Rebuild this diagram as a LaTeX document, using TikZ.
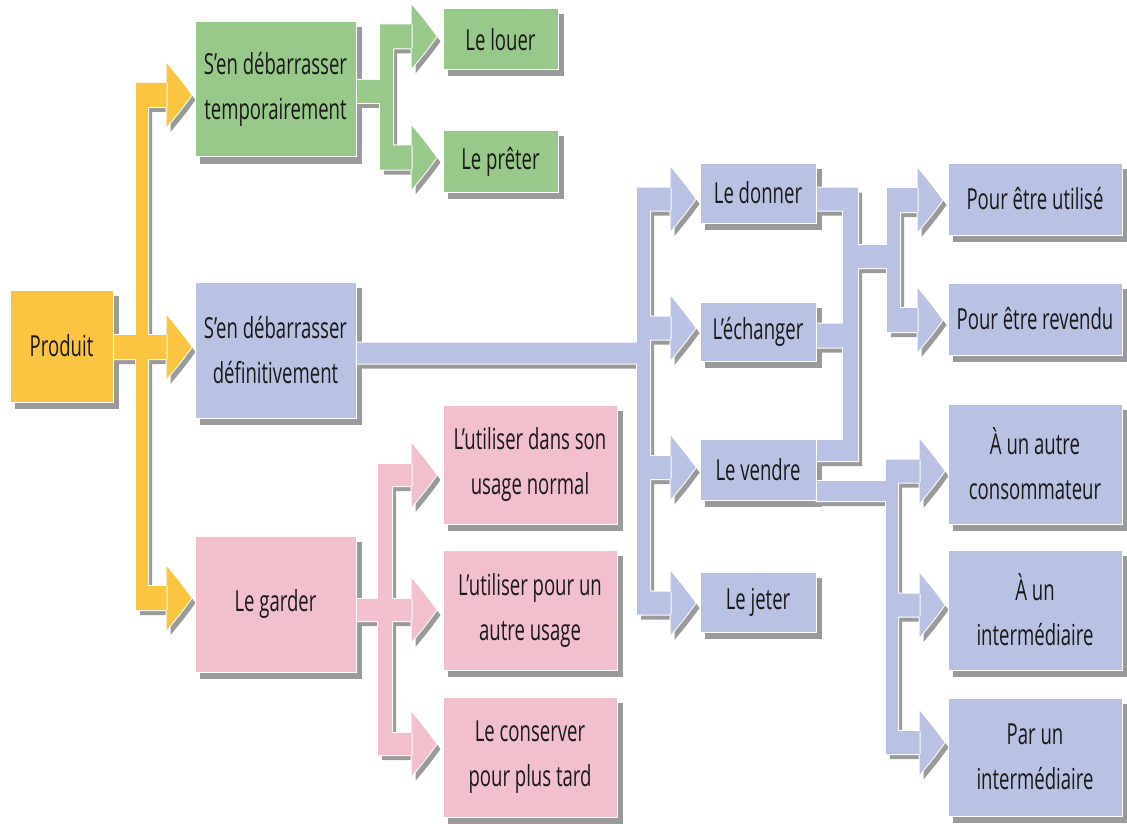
\documentclass[tikz,border=0pt]{standalone}
\usepackage{fontspec}
\setmainfont{Open Sans}[FakeStretch=0.64]
\usetikzlibrary{calc}

\definecolor{yellowc}{HTML}{FBC542}
\definecolor{greenc}{HTML}{98C98A}
\definecolor{bluec}{HTML}{B9C2E3}
\definecolor{pinkc}{HTML}{F2C0CD}
\definecolor{shadegray}{HTML}{9A9A9A}

\pgfdeclarelayer{canvasbg}
\pgfdeclarelayer{boxshadow}
\pgfdeclarelayer{connshadow}
\pgfdeclarelayer{connrim}
\pgfdeclarelayer{conn}
\pgfsetlayers{canvasbg,boxshadow,connshadow,connrim,conn,main}

% fat connector: drop shadow, white rim, coloured body
\newcommand\connector[2]{%
  \begin{pgfonlayer}{connshadow}\fill[shadegray, transform canvas={xshift=4pt,yshift=-5pt}] #2;\end{pgfonlayer}
  \begin{pgfonlayer}{connrim}\draw[white, line width=2pt] #2;\end{pgfonlayer}
  \begin{pgfonlayer}{conn}\fill[#1] #2;\end{pgfonlayer}}
% shaft from #1 to the base of the head whose tip is #2, half width #3
\newcommand\shaftto[3]{([yshift=#3pt]#1) rectangle ([xshift=-24pt,yshift=-#3pt]#2)}
% finned arrow head with its tip at #1
\newcommand\headat[1]{([xshift=-25pt,yshift=32pt]#1) .. controls ([xshift=-11pt,yshift=15pt]#1) .. (#1) .. controls ([xshift=-11pt,yshift=-15pt]#1) .. ([xshift=-25pt,yshift=-32pt]#1) -- cycle}

\tikzset{
  box/.style={draw=white, line width=1pt, inner sep=0pt, align=center,
    text=black!90, font=\fontsize{29}{45}\selectfont},
  size/.style 2 args={minimum width=#1pt, minimum height=#2pt},
}

\begin{document}
\begin{tikzpicture}[x=1pt, y=-1pt]
\begin{pgfonlayer}{canvasbg}
\fill[white] (0,0) rectangle (1127,824);
\end{pgfonlayer}
\useasboundingbox (0,0) rectangle (1127,824);

% boxes
\node[box, fill=yellowc, size={103}{112}] (prod) at (61.5,346) {Produit};
\node[box, fill=greenc, size={161}{135}] (temp) at (275.5,89.5) {S'en débarrasser\\temporairement};
\node[box, fill=bluec, size={161}{136}] (def) at (275.5,350) {S'en débarrasser\\définitivement};
\node[box, fill=pinkc, size={161}{136}] (garder) at (275.5,604) {Le garder};

\node[box, fill=greenc, size={115}{61}] (louer) at (500.5,39.5) {Le louer};
\node[box, fill=greenc, size={115}{61}] (preter) at (500.5,161.5) {Le prêter};

\node[box, fill=pinkc, size={174}{119}] (usage1) at (530,464.5) {L'utiliser dans son\\usage normal};
\node[box, fill=pinkc, size={174}{120}] (usage2) at (530,610) {L'utiliser pour un\\autre usage};
\node[box, fill=pinkc, size={174}{120}] (conserver) at (530,757) {Le conserver\\pour plus tard};

\node[box, fill=bluec, size={116}{60}] (donner) at (758,193) {Le donner};
\node[box, fill=bluec, size={116}{59}] (echanger) at (758,331.5) {L'échanger};
\node[box, fill=bluec, size={116}{61}] (vendre) at (758,469.5) {Le vendre};
\node[box, fill=bluec, size={116}{60}] (jeter) at (758,602) {Le jeter};

\node[box, fill=bluec, size={174}{72}] (utilise) at (1035,199) {Pour être utilisé};
\node[box, fill=bluec, size={174}{72}] (revendu) at (1035,319) {Pour être revendu};
\node[box, fill=bluec, size={174}{120}] (conso) at (1035,464) {À un autre\\consommateur};
\node[box, fill=bluec, size={174}{120}] (interm) at (1035,610) {À un\\intermédiaire};
\node[box, fill=bluec, size={174}{118}] (par) at (1035,757) {Par un\\intermédiaire};

% box shadows
\begin{pgfonlayer}{boxshadow}
\foreach \n in {prod,temp,def,garder,louer,preter,usage1,usage2,conserver,
                donner,echanger,vendre,jeter,utilise,revendu,conso,interm,par}
  \fill[shadegray] ([xshift=5pt,yshift=-6pt]\n.north west) rectangle ([xshift=5pt,yshift=-6pt]\n.south east);
\end{pgfonlayer}

% Produit -> three choices
\coordinate (ty1) at ([xshift=-3pt,yshift=-5.5pt]temp.west);
\coordinate (ty2) at ([xshift=-3pt,yshift=3pt]def.west);
\coordinate (ty3) at ([xshift=-3pt,yshift=6pt]garder.west);
\coordinate (ya) at (ty1 -| 136,0);
\coordinate (yb) at (ty3 -| 148,0);
\coordinate (yc) at (ty2 -| prod.east);
\coordinate (yd) at (ty3 -| 136,0);
\connector{yellowc}{([yshift=12pt]ya) rectangle ([yshift=-12pt]yb)
  \shaftto{ya}{ty1}{12} \headat{ty1}
  \shaftto{yc}{ty2}{12} \headat{ty2}
  \shaftto{yd}{ty3}{12} \headat{ty3}}

% temporarily
\coordinate (tg1) at ([xshift=-6pt,yshift=3pt]louer.west);
\coordinate (tg2) at ([xshift=-6pt,yshift=4pt]preter.west);
\coordinate (ga) at (tg1 -| 380,0);
\coordinate (gb) at (tg2 -| 393,0);
\coordinate (gc) at (tg2 -| 380,0);
\coordinate (gs) at ([yshift=-2pt]temp.east);
\coordinate (ge) at (gs -| 386,0);
\connector{greenc}{([yshift=12pt]ga) rectangle ([yshift=-12pt]gb)
  ([yshift=11.5pt]gs) rectangle ([yshift=-11.5pt]ge)
  \shaftto{ga}{tg1}{12} \headat{tg1}
  \shaftto{gc}{tg2}{12} \headat{tg2}}

% keep it
\coordinate (tp1) at ([xshift=-6pt,yshift=-10.5pt]usage1.west);
\coordinate (tp2) at ([xshift=-6pt]usage2.west);
\coordinate (tp3) at ([xshift=-6pt,yshift=13pt]conserver.west);
\coordinate (pa) at (tp1 -| 378,0);
\coordinate (pb) at (tp3 -| 392,0);
\coordinate (pc) at (tp3 -| 378,0);
\coordinate (ps) at (tp2 -| garder.east);
\connector{pinkc}{([yshift=11pt]pa) rectangle ([yshift=-11pt]pb)
  \shaftto{pa}{tp1}{11} \headat{tp1}
  \shaftto{ps}{tp2}{11} \headat{tp2}
  \shaftto{pc}{tp3}{11} \headat{tp3}}

% definitively
\coordinate (tb1) at ([xshift=-4pt,yshift=-6pt]donner.west);
\coordinate (tb2) at ([xshift=-4pt,yshift=3.5pt]echanger.west);
\coordinate (tb3) at ([xshift=-4pt,yshift=2pt]vendre.west);
\coordinate (tb4) at ([xshift=-4pt,yshift=-1pt]jeter.west);
\coordinate (ba) at (tb1 -| 637,0);
\coordinate (bb) at (tb4 -| 650,0);
\coordinate (bc2) at (tb2 -| 637,0);
\coordinate (bc3) at (tb3 -| 637,0);
\coordinate (bc4) at (tb4 -| 637,0);
\coordinate (bs) at ([yshift=-3pt]def.east);
\coordinate (be) at (bs -| 645,0);
\connector{bluec}{([yshift=11.5pt]ba) rectangle ([yshift=-11.5pt]bb)
  ([yshift=10.5pt]bs) rectangle ([yshift=-10.5pt]be)
  \shaftto{ba}{tb1}{11.5} \headat{tb1}
  \shaftto{bc2}{tb2}{11.5} \headat{tb2}
  \shaftto{bc3}{tb3}{11.5} \headat{tb3}
  \shaftto{bc4}{tb4}{11.5} \headat{tb4}}

% give, exchange, sell -> purpose
\coordinate (ra) at ([yshift=-6pt]donner.east);
\coordinate (rb) at ([yshift=-4pt]echanger.east);
\coordinate (rc) at ([yshift=19pt]vendre.east);
\coordinate (ra1) at (ra -| 843,0);
\coordinate (ra2) at (ra -| 858,0);
\coordinate (rb2) at (rb -| 858,0);
\coordinate (rc2) at (rc -| 858,0);
\coordinate (rx1) at (850,256.5);
\coordinate (rx2) at (894,256.5);
\coordinate (tr1) at ([xshift=-5pt,yshift=-1pt]utilise.west);
\coordinate (tr2) at ([xshift=-5pt,yshift=-1pt]revendu.west);
\coordinate (rd1) at (tr1 -| 887,0);
\coordinate (rd2) at (tr2 -| 900,0);
\coordinate (rd3) at (tr2 -| 887,0);
\connector{bluec}{([yshift=11.5pt]ra1) rectangle ([yshift=-10.5pt]rc2)
  ([yshift=11.5pt]ra) rectangle ([yshift=-11.5pt]ra2)
  ([yshift=12pt]rb) rectangle ([yshift=-12pt]rb2)
  ([yshift=10.5pt]rc) rectangle ([yshift=-10.5pt]rc2)
  ([yshift=11.5pt]rx1) rectangle ([yshift=-11.5pt]rx2)
  ([yshift=12pt]rd1) rectangle ([yshift=-12pt]rd2)
  \shaftto{rd1}{tr1}{12} \headat{tr1}
  \shaftto{rd3}{tr2}{12} \headat{tr2}}

% sell -> buyer
\coordinate (rv) at ([yshift=-21.5pt]vendre.east);
\coordinate (rv2) at (rv -| 892,0);
\coordinate (ts1) at ([xshift=-3pt,yshift=-7pt]conso.west);
\coordinate (ts2) at ([xshift=-3pt,yshift=5pt]interm.west);
\coordinate (ts3) at ([xshift=-3pt,yshift=14.5pt]par.west);
\coordinate (sa) at (ts1 -| 886,0);
\coordinate (sb) at (ts3 -| 898,0);
\coordinate (s2) at (ts2 -| 886,0);
\coordinate (s3) at (ts3 -| 886,0);
\connector{bluec}{([yshift=10pt]rv) rectangle ([yshift=-10pt]rv2)
  ([yshift=11.5pt]sa) rectangle ([yshift=-11.5pt]sb)
  \shaftto{sa}{ts1}{11.5} \headat{ts1}
  \shaftto{s2}{ts2}{11.5} \headat{ts2}
  \shaftto{s3}{ts3}{11.5} \headat{ts3}}
\end{tikzpicture}
\end{document}
